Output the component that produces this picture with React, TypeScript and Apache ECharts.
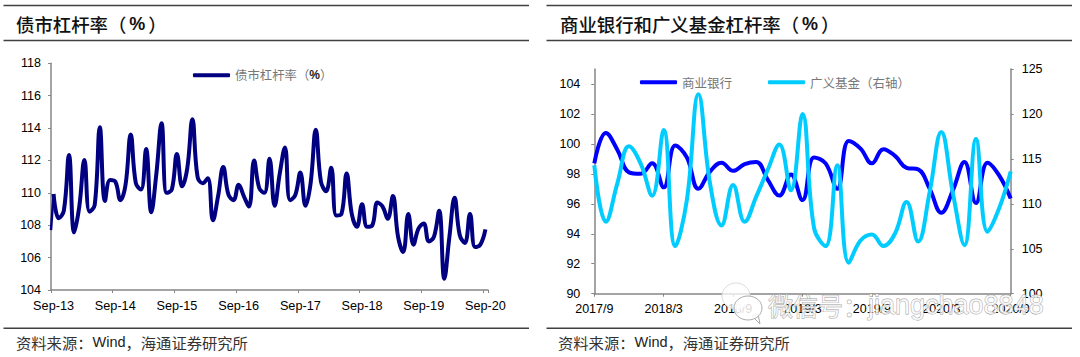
import React, { useEffect, useRef } from "react";
import * as echarts from "echarts";

const leverageMonths = [
  "Sep-13","Oct-13","Nov-13","Dec-13","Jan-14","Feb-14","Mar-14","Apr-14","May-14","Jun-14","Jul-14","Aug-14",
  "Sep-14","Oct-14","Nov-14","Dec-14","Jan-15","Feb-15","Mar-15","Apr-15","May-15","Jun-15","Jul-15","Aug-15",
  "Sep-15","Oct-15","Nov-15","Dec-15","Jan-16","Feb-16","Mar-16","Apr-16","May-16","Jun-16","Jul-16","Aug-16",
  "Sep-16","Oct-16","Nov-16","Dec-16","Jan-17","Feb-17","Mar-17","Apr-17","May-17","Jun-17","Jul-17","Aug-17",
  "Sep-17","Oct-17","Nov-17","Dec-17","Jan-18","Feb-18","Mar-18","Apr-18","May-18","Jun-18","Jul-18","Aug-18",
  "Sep-18","Oct-18","Nov-18","Dec-18","Jan-19","Feb-19","Mar-19","Apr-19","May-19","Jun-19","Jul-19","Aug-19",
  "Sep-19","Oct-19","Nov-19","Dec-19","Jan-20","Feb-20","Mar-20","Apr-20","May-20","Jun-20","Jul-20","Aug-20",
  "Sep-20",
];
const bondLeverage = [
  109.93,108.43,108.9,112.34,107.56,109.15,112.03,108.84,109.25,114.05,109.5,110.8,
  110.7,109.55,110.5,113.6,110.6,110.2,112.7,108.8,111.2,114.3,110.0,110.2,
  112.4,110.4,111.5,114.55,111.0,110.6,110.9,108.3,109.8,111.6,109.9,109.55,
  110.5,109.8,109.15,112.0,110.3,110.0,112.1,109.2,111.2,112.8,109.55,109.85,
  111.25,109.2,110.6,113.9,110.7,110.1,111.55,108.6,108.7,111.2,108.7,107.9,
  109.3,107.9,108.0,109.4,109.15,108.4,109.8,107.3,106.35,108.7,106.8,107.8,
  108.1,107.0,107.3,108.9,104.7,107.3,109.7,107.4,106.9,108.7,106.65,106.8,
  107.75,
];
// the line enters the plot from the axis edge before its first full point
const bondLeverageEntry = [[0, 107.7], [0.5, 109.93]];
const bankMonths = [
  "2017/9","2017/10","2017/11","2017/12","2018/1","2018/2","2018/3","2018/4","2018/5","2018/6","2018/7","2018/8",
  "2018/9","2018/10","2018/11","2018/12","2019/1","2019/2","2019/3","2019/4","2019/5","2019/6","2019/7","2019/8",
  "2019/9","2019/10","2019/11","2019/12","2020/1","2020/2","2020/3","2020/4","2020/5","2020/6","2020/7","2020/8",
  "2020/9",
];
const commercialBanks = [
  98.7,100.73,99.6,98.1,98.0,98.7,97.1,99.9,99.1,97.0,98.15,98.75,
  98.2,98.65,98.8,97.6,96.55,97.95,96.25,99.1,98.7,97.0,100.2,99.7,
  98.7,99.65,99.2,98.4,98.3,97.0,95.4,96.9,98.8,96.05,98.75,97.9,
  96.35,
];
const broadFunds = [
  114.3,108.0,112.3,116.4,114.5,110.9,118.2,105.3,110.4,122.2,112.3,107.6,
  112.1,108.0,110.8,113.8,116.6,111.5,120.0,107.3,105.3,114.3,103.45,105.9,
  106.6,105.3,106.7,110.2,105.8,111.35,118.0,111.2,105.4,117.2,106.9,109.5,
  113.6,
];
const leftTicks = [90, 92, 94, 96, 98, 100, 102, 104];
const legend1 = "债市杠杆率（%）";
const legend2 = "商业银行";
const legend3 = "广义基金（右轴）";

const CJK = '"Noto Sans CJK SC"';
const LATIN = '"Liberation Sans", Arial';
const axisColor = "#868686";
const axisLine = { show: true, lineStyle: { color: axisColor, width: 1.5 } };
const axisTick = { show: true, length: 3, lineStyle: { color: axisColor, width: 1 } };
const labelStyle = { color: "#000", fontFamily: LATIN, fontSize: 12.5 };

const rule = (x1: number, x2: number, y: number) => ({
  type: "line", shape: { x1, x2, y1: y, y2: y }, style: { stroke: "#404040", lineWidth: 1.5 },
});
const titleRich = {
  c: { fontFamily: CJK, fontSize: 18.4, fill: "#111", fontWeight: 500 },
  p: { fontFamily: LATIN, fontSize: 18, fill: "#111", fontWeight: "bold", padding: [0, 3, 0, 3] },
};
const title = (x: number, t: string) => ({
  type: "text", x, y: 24,
  style: { text: `{c|${t}（}{p|%}{c|）}`, rich: titleRich, textVerticalAlign: "middle" },
});
const sourceRich = {
  c: { fontFamily: CJK, fontSize: 15.3, fill: "#333" },
  w: { fontFamily: LATIN, fontSize: 14.5, fill: "#222" },
};
const source = (x: number) => ({
  type: "text", x, y: 342,
  style: { text: "{c|资料来源：}{w|Wind}{c|，海通证券研究所}", rich: sourceRich, textVerticalAlign: "middle" },
});

export default function App() {
  const ref = useRef<HTMLDivElement>(null);
  useEffect(() => {
    document.body.style.margin = "0";
    const chart = echarts.init(ref.current!, undefined, { renderer: "svg" });
    chart.setOption({
      animation: false,
      backgroundColor: "#fff",
      grid: [
        { left: 51, top: 63.3, width: 437, height: 226.7 },
        { left: 594.3, top: 69, width: 416.4, height: 224.7 },
      ],
      xAxis: [
        {
          type: "category", gridIndex: 0, data: leverageMonths, boundaryGap: true,
          axisLine, axisTick: { ...axisTick, interval: 11 },
          axisLabel: { ...labelStyle, fontSize: 12.7, interval: 11, margin: 9 },
        },
        {
          type: "category", gridIndex: 1, data: bankMonths, boundaryGap: false,
          axisLine, axisTick: { ...axisTick, interval: 5 },
          axisLabel: { ...labelStyle, interval: 5, margin: 9, hideOverlap: false },
        },
        { type: "value", gridIndex: 0, min: 0, max: 85, show: false },
      ],
      yAxis: [
        {
          type: "value", gridIndex: 0, min: 104, max: 118, interval: 2,
          axisLine, axisTick, axisLabel: { ...labelStyle, margin: 10 }, splitLine: { show: false },
        },
        {
          type: "value", gridIndex: 1, min: 90, max: 105, interval: 2,
          axisLine,
          axisTick: { ...axisTick, customValues: leftTicks },
          axisLabel: { ...labelStyle, margin: 14, customValues: leftTicks },
          splitLine: { show: false },
        },
        {
          type: "value", gridIndex: 1, position: "right", min: 100, max: 125, interval: 5,
          axisLine, axisTick, axisLabel: { ...labelStyle, margin: 11 }, splitLine: { show: false },
        },
      ],
      legend: [
        {
          left: 193, top: 69, data: [legend1], icon: "roundRect", itemWidth: 37, itemHeight: 4,
          padding: 0,
          formatter: () => "{c|债市杠杆率（}{p|%}{c|）}",
          textStyle: {
            rich: {
              c: { color: "#777", fontFamily: CJK, fontSize: 12.4 },
              p: { color: "#222", fontFamily: LATIN, fontSize: 12, fontWeight: "bold" },
            },
          },
        },
        {
          left: 640, top: 76, data: [legend2, legend3], icon: "roundRect", itemWidth: 37, itemHeight: 4, itemGap: 36,
          textStyle: { color: "#777", fontFamily: CJK, fontSize: 12.5 }, padding: 0,
        },
      ],
      series: [
        {
          name: "债市杠杆率入口", type: "line", xAxisIndex: 2, yAxisIndex: 0, data: bondLeverageEntry,
          showSymbol: false, lineStyle: { color: "#000080", width: 2.5 },
        },
        {
          name: legend1, type: "line", xAxisIndex: 0, yAxisIndex: 0, data: bondLeverage,
          smooth: 0.42, showSymbol: false, lineStyle: { color: "#000080", width: 4 }, itemStyle: { color: "#000080" },
        },
        {
          name: legend2, type: "line", xAxisIndex: 1, yAxisIndex: 1, data: commercialBanks,
          smooth: 0.42, showSymbol: false, lineStyle: { color: "#0000FF", width: 4 }, itemStyle: { color: "#0000FF" },
        },
        {
          name: legend3, type: "line", xAxisIndex: 1, yAxisIndex: 2, data: broadFunds,
          smooth: 0.42, showSymbol: false, lineStyle: { color: "#00CCFF", width: 4 }, itemStyle: { color: "#00CCFF" },
        },
      ],
      graphic: [
        rule(3.5, 529, 5.5), rule(3.5, 529, 40.5), rule(3.5, 529, 328.3),
        rule(546.5, 1072, 5.5), rule(546.5, 1072, 40.5), rule(546.5, 1072, 328.3),
        title(16, "债市杠杆率"),
        title(560, "商业银行和广义基金杠杆率"),
        source(16),
        source(558),
        { type: "ellipse", z: 100, shape: { cx: 736, cy: 296, rx: 14, ry: 13 }, style: { fill: "rgba(255,255,255,0.75)", stroke: "#ddd", lineWidth: 1 } },
        { type: "polygon", z: 100, shape: { points: [[752, 316], [760, 324], [758, 314]] }, style: { fill: "#fff", stroke: "#aaa", lineWidth: 1 } },
        { type: "ellipse", z: 100, shape: { cx: 748, cy: 308, rx: 14, ry: 12 }, style: { fill: "rgba(255,255,255,0.85)", stroke: "#aaa", lineWidth: 1 } },
        {
          type: "text", z: 100, x: 768, y: 305,
          style: {
            text: "{c|微信号：}{l|jiangchao8848}",
            textVerticalAlign: "middle",
            rich: {
              c: { fontFamily: CJK, fontSize: 25, fill: "rgba(255,255,255,0.75)", stroke: "#a0a0a0", lineWidth: 0.8 },
              l: { fontFamily: LATIN, fontSize: 27, fill: "rgba(255,255,255,0.75)", stroke: "#a0a0a0", lineWidth: 0.8 },
            },
          },
        },
      ],
    });
    return () => chart.dispose();
  }, []);
  return <div ref={ref} style={{ width: 1080, height: 357 }} />;
}
